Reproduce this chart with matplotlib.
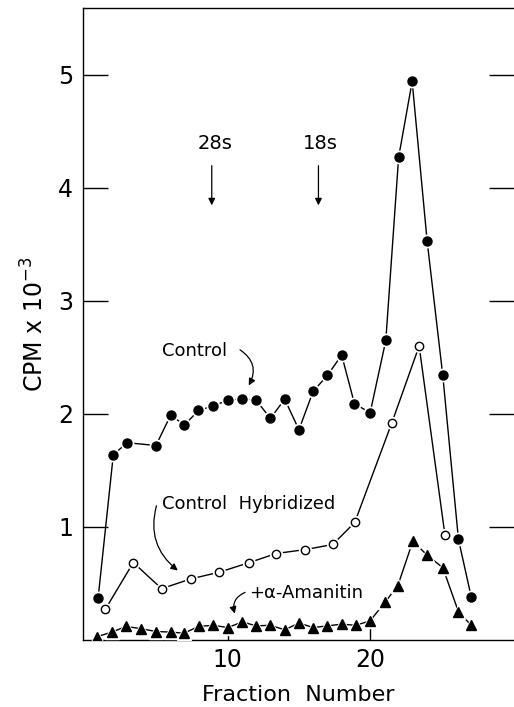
import matplotlib
matplotlib.use("Agg")
import matplotlib.pyplot as plt

# Data
ctrl_x = [0.9, 1.97, 2.95, 4.96, 6.0, 6.96, 7.94, 8.95, 10.0, 11.03, 12.0, 13.0, 14.0, 15.0,
          16.0, 17.0, 18.0, 18.9, 20.0, 21.1, 22.0, 22.95, 24.0, 25.1, 26.2, 27.1]
ctrl_y = [0.37, 1.64, 1.745, 1.72, 1.99, 1.90, 2.03, 2.07, 2.12, 2.135, 2.12, 1.96, 2.13, 1.86,
          2.20, 2.34, 2.52, 2.09, 2.01, 2.65, 4.27, 4.94, 3.53, 2.34, 0.89, 0.38]

hyb_x = [1.4, 3.37, 5.36, 7.4, 9.41, 11.52, 13.4, 15.46, 17.38, 18.92, 21.52, 23.44, 25.25]
hyb_y = [0.27, 0.685, 0.454, 0.54, 0.60, 0.685, 0.765, 0.80, 0.845, 1.04, 1.92, 2.60, 0.93]

ama_x = [0.84, 1.87, 2.86, 3.93, 4.96, 6.0, 6.93, 7.96, 9.0, 10.0, 11.03, 12.0, 13.0, 14.0,
         15.0, 16.0, 17.0, 18.0, 19.0, 20.0, 21.05, 21.94, 23.0, 24.0, 25.1, 26.2, 27.1]
ama_y = [0.03, 0.07, 0.12, 0.10, 0.075, 0.07, 0.06, 0.12, 0.13, 0.11, 0.16, 0.125, 0.13, 0.09,
         0.15, 0.11, 0.125, 0.14, 0.13, 0.17, 0.335, 0.48, 0.875, 0.75, 0.64, 0.25, 0.13]

y_ticks = [1, 2, 3, 4, 5]
x_ticks = [10, 20]

fig = plt.figure(figsize=(5.14, 7.07), dpi=100)
ax = fig.add_axes([83/514, 67/707, 1 - 83/514, 632/707])
ax.set_xlim(-0.16, 30.1)
ax.set_ylim(0, 5.59)

def series(x, y, marker, filled, ms):
    ax.plot(x, y, '-', color='black', lw=1.0, zorder=2)
    ax.plot(x, y, marker, ls='none', ms=ms + 2.5, color='white', zorder=3)
    if filled:
        ax.plot(x, y, marker, ls='none', ms=ms, color='black', zorder=4)
    else:
        ax.plot(x, y, marker, ls='none', ms=ms, mfc='white', mec='black', mew=1.0, zorder=4)

series(ctrl_x, ctrl_y, 'o', True, 6.5)
series(hyb_x, hyb_y, 'o', False, 6.0)
series(ama_x, ama_y, '^', True, 7.0)

ax.spines['right'].set_visible(False)
for s in ['left', 'top', 'bottom']:
    ax.spines[s].set_linewidth(1.0)

ax.set_yticks(y_ticks)
ax.set_yticklabels([str(v) for v in y_ticks])
ax.set_xticks(x_ticks)
ax.set_xticklabels([str(v) for v in x_ticks])
ax.tick_params(axis='y', direction='in', length=18, width=1.0, labelsize=17, pad=7,
               right=True, left=True)
ax.tick_params(axis='x', direction='in', length=11, width=1.0, labelsize=17, pad=6)

ax.set_xlabel('Fraction  Number', fontsize=16, labelpad=9)
ax.set_ylabel('CPM x 10$^{-3}$', fontsize=17, labelpad=7)

# sedimentation markers
ax.text(9.09, 4.39, '28s', fontsize=14, ha='center', va='center')
ax.text(16.5, 4.39, '18s', fontsize=14, ha='center', va='center')
for xx in [8.88, 16.37]:
    ax.annotate('', xy=(xx, 3.82), xytext=(xx, 4.22),
                arrowprops=dict(arrowstyle='-|>', color='black', lw=0.9, mutation_scale=10))

ax.text(5.36, 2.56, 'Control', fontsize=13, ha='left', va='center')
ax.annotate('', xy=(11.38, 2.23), xytext=(10.7, 2.58),
            arrowprops=dict(arrowstyle='-|>', color='black', lw=0.9, mutation_scale=10,
                            connectionstyle='arc3,rad=-0.5'))

ax.text(5.36, 1.20, 'Control  Hybridized', fontsize=13, ha='left', va='center')
ax.annotate('', xy=(6.65, 0.60), xytext=(5.05, 1.21),
            arrowprops=dict(arrowstyle='-|>', color='black', lw=0.9, mutation_scale=10,
                            connectionstyle='arc3,rad=0.35'))

ax.text(11.52, 0.42, '+\u03b1-Amanitin', fontsize=13, ha='left', va='center')
ax.annotate('', xy=(10.55, 0.21), xytext=(11.4, 0.43),
            arrowprops=dict(arrowstyle='-|>', color='black', lw=0.9, mutation_scale=10,
                            connectionstyle='arc3,rad=0.5'))

fig.savefig('out.png', dpi=100)
